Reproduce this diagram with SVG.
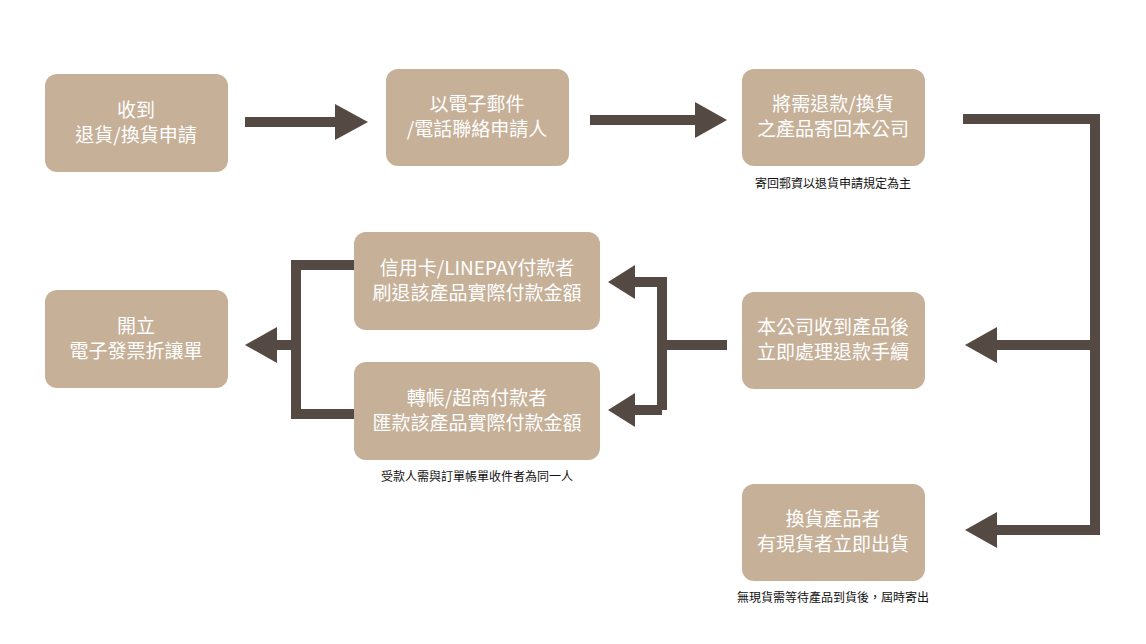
<svg xmlns="http://www.w3.org/2000/svg" width="1146" height="644" viewBox="0 0 1146 644">
<style>
.n{fill:#c6b098}
.t{font-family:"Noto Sans CJK TC","Noto Sans",sans-serif;font-size:19px;fill:#fff;text-anchor:middle}
.s{font-family:"Noto Sans CJK TC","Noto Sans",sans-serif;font-size:12px;fill:#111;text-anchor:middle}
.c{fill:none;stroke:#554a43;stroke-width:10}
.h{fill:#554a43}
</style>
<rect width="1146" height="644" fill="#fff"/>
<g id="n1"><rect class="n" x="45" y="74" width="183" height="98" rx="12"/><text class="t" x="136" y="117">收到</text><text class="t" x="136" y="142">退貨/換貨申請</text></g>
<g id="n2"><rect class="n" x="386" y="69" width="183" height="97" rx="12"/><text class="t" x="477" y="111">以電子郵件</text><text class="t" x="477" y="136">/電話聯絡申請人</text></g>
<g id="n3"><rect class="n" x="742" y="69" width="183" height="97" rx="12"/><text class="t" x="833" y="111">將需退款/換貨</text><text class="t" x="833" y="136">之產品寄回本公司</text><text class="s" x="833" y="188">寄回郵資以退貨申請規定為主</text></g>
<g id="n4"><rect class="n" x="742" y="292" width="183" height="97" rx="12"/><text class="t" x="833" y="334">本公司收到產品後</text><text class="t" x="833" y="359">立即處理退款手續</text></g>
<g id="n5"><rect class="n" x="742" y="484" width="183" height="97" rx="12"/><text class="t" x="833" y="526">換貨產品者</text><text class="t" x="833" y="551">有現貨者立即出貨</text><text class="s" x="833" y="602">無現貨需等待產品到貨後，屆時寄出</text></g>
<g id="n6"><rect class="n" x="354" y="232" width="246" height="98" rx="12"/><text class="t" x="477" y="275">信用卡/LINEPAY付款者</text><text class="t" x="477" y="300">刷退該產品實際付款金額</text></g>
<g id="n7"><rect class="n" x="354" y="362" width="246" height="98" rx="12"/><text class="t" x="477" y="405">轉帳/超商付款者</text><text class="t" x="477" y="430">匯款該產品實際付款金額</text><text class="s" x="477" y="481">受款人需與訂單帳單收件者為同一人</text></g>
<g id="n8"><rect class="n" x="45" y="290" width="183" height="98" rx="12"/><text class="t" x="136" y="333">開立</text><text class="t" x="136" y="358">電子發票折讓單</text></g>
<g id="connectors">
<path class="c" d="M245 122H340"/><path class="h" d="M335 104L368 122L335 140Z"/>
<path class="c" d="M590 120H700"/><path class="h" d="M695 102L727 120L695 138Z"/>
<path class="c" d="M963 119H1095V530H995M1095 345H995"/>
<path class="h" d="M997 327L965 345L997 363Z"/><path class="h" d="M997 512L965 530L997 548Z"/>
<path class="c" d="M727 345H662M662 410V282H630M662 410H630"/>
<path class="h" d="M635 265L608 282L635 299Z"/><path class="h" d="M635 393L608 410L635 427Z"/>
<path class="c" d="M354 265H296V414H354M296 345H272"/>
<path class="h" d="M277 327L245 345L277 363Z"/>
</g>
</svg>
